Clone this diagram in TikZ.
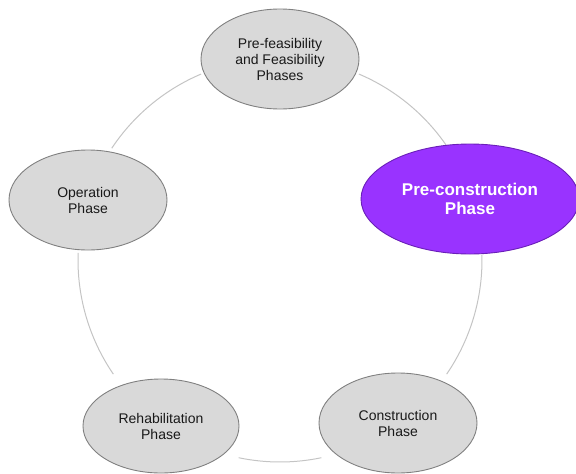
\documentclass[tikz,border=0pt]{standalone}
\usepackage{fontspec}
\setmainfont{Liberation Sans}
\usetikzlibrary{shapes.geometric,calc}
\definecolor{phasegray}{HTML}{D9D9D9}
\definecolor{phaseedge}{HTML}{808080}
\definecolor{ringgray}{HTML}{C4C4C4}
\definecolor{hipurple}{HTML}{9933FF}
\definecolor{hiedge}{HTML}{6A1FB8}
\tikzset{
  phase/.style={ellipse, draw=phaseedge, fill=phasegray, line width=0.9pt,
    minimum width=158pt, minimum height=100pt, inner sep=0pt, align=center,
    text=black!90, font=\fontsize{14}{16}\selectfont},
  active/.style={phase, draw=hiedge, fill=hipurple, text=white,
    minimum width=218pt, minimum height=110pt,
    font=\fontsize{17}{19.5}\selectfont\bfseries},
  ring/.style={draw=ringgray, line width=1pt}
}
\begin{document}
\begin{tikzpicture}[x=1pt,y=-1pt]
\useasboundingbox (0,0) rectangle (576,474);
\coordinate (c) at (280,260);
\def\R{202}
\foreach \a/\b in {67/34.4, 1.4/-34.4, -78.2/-101.8, 214.4/178, 146.4/113}{
  \draw[ring] ($(c)+({\R*cos(\a)},{-\R*sin(\a)})$) arc[start angle=-\a, end angle=-\b, radius=\R];
}
\node[phase] (pre) at (280,59) {Pre-feasibility\\and Feasibility\\Phases};
\node[active] (pc) at (470,199) {Pre-construction\\Phase};
\node[phase] (con) at (398,423) {Construction\\Phase};
\node[phase, minimum width=156pt, minimum height=94pt] (reh) at (161,426) {Rehabilitation\\Phase};
\node[phase] (op) at (88,200) {Operation\\Phase};
\end{tikzpicture}
\end{document}
